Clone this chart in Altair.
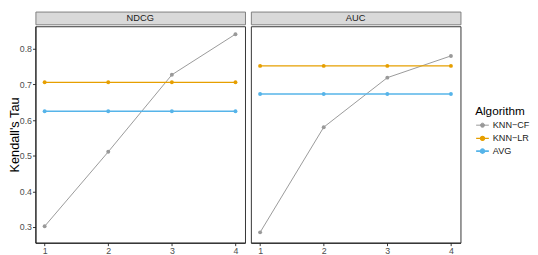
import altair as alt
import pandas as pd

# ---- data ----
x_vals = [1, 2, 3, 4]
algorithms = ["KNN−CF", "KNN−LR", "AVG"]
colors = ["#999999", "#E69F00", "#56B4E9"]
metrics = ["NDCG", "AUC"]

ndcg_knn_cf = [0.302, 0.511, 0.727, 0.841]
ndcg_knn_lr = [0.706, 0.706, 0.706, 0.706]
ndcg_avg = [0.625, 0.625, 0.625, 0.625]

auc_knn_cf = [0.285, 0.580, 0.719, 0.780]
auc_knn_lr = [0.752, 0.752, 0.752, 0.752]
auc_avg = [0.673, 0.673, 0.673, 0.673]

y_ticks = [0.3, 0.4, 0.5, 0.6, 0.7, 0.8]

series = {
    "NDCG": [ndcg_knn_cf, ndcg_knn_lr, ndcg_avg],
    "AUC": [auc_knn_cf, auc_knn_lr, auc_avg],
}

rows = []
for m in metrics:
    for alg, vals in zip(algorithms, series[m]):
        for xv, v in zip(x_vals, vals):
            rows.append({"Metric": m, "Algorithm": alg, "k": xv, "tau": v})
df = pd.DataFrame(rows)

FONT = "Liberation Sans"
PW, PH = 214, 221
STRIP_H = 13

legend_path = "M-1,0L1,0M-0.32,0A0.32,0.32 0 1,0 0.32,0A0.32,0.32 0 1,0 -0.32,0"


def panel(metric, show_y):
    base = alt.Chart(df[df.Metric == metric])
    x = alt.X(
        "k:Q",
        scale=alt.Scale(domain=[0.855, 4.15], nice=False, zero=False),
        axis=alt.Axis(values=x_vals, format="d", title=None, grid=False,
                      tickSize=3, labelPadding=1),
    )
    if show_y:
        y = alt.Y(
            "tau:Q",
            scale=alt.Scale(domain=[0.256, 0.8632], nice=False, zero=False),
            axis=alt.Axis(values=y_ticks, format=".1f", title="Kendall's Tau",
                          grid=False, tickSize=3, labelPadding=1,
                          titleX=-17, titleBaseline="alphabetic", titleAngle=270,
                          titleFontSize=13, titleFontWeight="normal",
                          titleColor="#000000", titleFont=FONT),
        )
    else:
        y = alt.Y(
            "tau:Q",
            scale=alt.Scale(domain=[0.256, 0.8632], nice=False, zero=False),
            axis=None,
        )
    color = alt.Color(
        "Algorithm:N",
        scale=alt.Scale(domain=algorithms, range=colors),
        legend=alt.Legend(
            title="Algorithm", orient="none", legendX=449, legendY=97,
            symbolType=legend_path, symbolSize=169, symbolStrokeWidth=1.2,
            titleFontSize=12, titleFontWeight="normal", titleColor="#000000",
            titleFont=FONT, labelFont=FONT, labelFontSize=9.3,
            labelColor="#1A1A1A", titlePadding=0, rowPadding=0,
            labelOffset=3,
        ),
    )
    sw = alt.StrokeWidth(
        "Algorithm:N",
        scale=alt.Scale(domain=algorithms, range=[1.0, 1.6, 1.6]),
        legend=None,
    )
    lines = base.mark_line().encode(x=x, y=y, color=color, strokeWidth=sw)
    points = base.mark_point(filled=True, size=16, opacity=1).encode(
        x=x, y=y, color=color)
    plot = (lines + points).properties(width=PW, height=PH)

    strip = alt.Chart(pd.DataFrame({"label": [metric]})).mark_text(
        font=FONT, fontSize=9.5, color="#1A1A1A", baseline="middle", align="center"
    ).encode(
        text="label:N", x=alt.value(PW / 2), y=alt.value(STRIP_H / 2 + 0.5)
    ).properties(
        width=PW, height=STRIP_H,
        view=alt.ViewBackground(fill="#D9D9D9", stroke="#7F7F7F"),
    )
    return alt.vconcat(strip, plot, spacing=0)


chart = alt.hconcat(
    panel("NDCG", True), panel("AUC", False), spacing=4
).properties(
    padding=0, background="white"
).configure_view(
    stroke="#333333", strokeWidth=1
).configure_axis(
    labelFont=FONT, labelFontSize=9, labelColor="#4D4D4D",
    tickColor="#333333", domainColor="#1A1A1A", domainWidth=1,
)

chart.save("out.html", embed_options={"renderer": "svg", "actions": False})
